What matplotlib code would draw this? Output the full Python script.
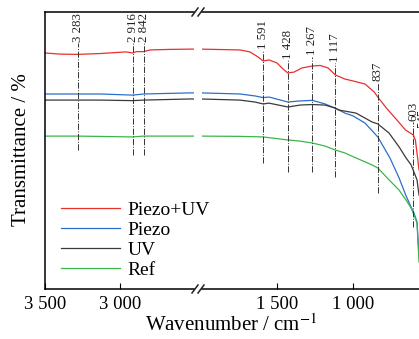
import matplotlib
matplotlib.use("Agg")
import matplotlib.pyplot as plt
from matplotlib.ticker import FixedLocator, FuncFormatter

plt.rcParams['font.family'] = ['Liberation Serif', 'DejaVu Serif']
plt.rcParams['mathtext.fontset'] = 'stix'

# spectra (wavenumber / cm-1, transmittance in arbitrary %)
wn_red = [3500, 3400, 3283, 3133, 2960, 2916, 2890, 2842, 2800, 2667, 2533, 2000,
          1743, 1678, 1625, 1591, 1552, 1500, 1454, 1428, 1388, 1336, 1267, 1217,
          1164, 1130, 1117, 1053, 1000, 921, 860, 837, 780, 700, 655, 603, 590, 575, 566]
t_red = [85.2, 84.8, 84.7, 85.0, 85.6, 85.2, 85.7, 85.7, 86.3, 86.5, 86.6, 86.6,
         86.3, 85.6, 83.8, 82.3, 82.7, 81.6, 79.1, 78.0, 78.3, 79.8, 80.5, 80.7,
         79.8, 78.0, 77.3, 75.8, 75.1, 74.0, 71.1, 69.3, 65.3, 60.3, 57.4, 55.6, 53.8, 47.3, 43.0]

wn_blue = [3500, 3283, 3133, 2916, 2842, 2533, 2000, 1743, 1645, 1591, 1552, 1428,
           1349, 1267, 1184, 1117, 1053, 1000, 921, 837, 757, 697, 651, 618, 599, 579, 566]
t_blue = [70.4, 70.4, 70.4, 70.0, 70.4, 70.8, 70.8, 70.4, 69.7, 69.1, 69.3, 67.5,
          67.9, 68.1, 66.8, 65.3, 63.5, 62.5, 59.9, 54.9, 47.3, 40.1, 33.6, 29.6, 27.4, 24.2, 12.3]

wn_black = [3500, 3283, 3133, 2916, 2842, 2533, 2000, 1743, 1645, 1591, 1552, 1428,
            1349, 1267, 1184, 1117, 1092, 980, 875, 837, 763, 697, 651, 618, 599, 579, 566]
t_black = [68.2, 68.2, 68.2, 68.0, 68.2, 68.6, 68.6, 68.2, 67.5, 66.8, 67.1, 65.7,
           66.4, 66.6, 66.4, 65.3, 64.6, 63.5, 60.3, 59.6, 56.3, 51.3, 47.3, 44.8, 42.2, 39.4, 33.9]

wn_green = [3500, 3283, 2916, 2842, 2533, 2000, 1743, 1591, 1428, 1349, 1267, 1184,
            1117, 1053, 980, 875, 837, 763, 697, 651, 618, 599, 579, 566]
t_green = [55.2, 55.2, 54.9, 55.2, 55.2, 55.2, 55.1, 54.9, 53.8, 53.4, 52.7, 51.6,
           50.2, 49.1, 47.3, 44.8, 43.7, 39.4, 35.7, 32.1, 29.2, 26.7, 23.8, 9.7]

series = [
    ("Piezo+UV", wn_red, t_red, "#e8302d"),
    ("Piezo", wn_blue, t_blue, "#2c6fc9"),
    ("UV", wn_black, t_black, "#3a3a3a"),
    ("Ref", wn_green, t_green, "#3cb54a"),
]

# marked peaks: position, top of the guide line, bottom of the guide line
peak_wn = [3283, 2916, 2842, 1591, 1428, 1267, 1117, 837, 603, 545]
peak_top = [88.8, 88.8, 88.8, 86.3, 82.7, 83.8, 81.6, 74.7, 60.3, 57.5]
peak_bot = [50.2, 48.4, 48.4, 45.5, 42.2, 42.2, 40.4, 34.7, 22.4, 22.4]

ticks_left = [3500, 3000]
ticks_right = [1500, 1000]

fig = plt.figure(figsize=(4.19, 3.39), dpi=100)
W, H = 419, 339
ax1 = fig.add_axes([45 / W, 50 / H, 149 / W, 277 / H])
ax2 = fig.add_axes([202 / W, 50 / H, 217 / W, 277 / H])
ax2.patch.set_visible(False)

ax1.set_xlim(3500, 2507)
ax2.set_xlim(1993, 566)
for ax in (ax1, ax2):
    ax.set_ylim(0, 100)
    for name, wn, t, c in series:
        ax.plot(wn, t, color=c, lw=0.9, label=name)
    for w, top, bot in zip(peak_wn, peak_top, peak_bot):
        lo, hi = sorted(ax.get_xlim())
        if lo <= w <= hi or (ax is ax2 and w < lo):
            ax.plot([w, w], [bot, top], color="#333333", lw=0.7, ls="-.",
                    clip_on=False)
            lab = f"{w:,}".replace(",", " ")
            ax.text(w, top + 0.5, lab, rotation=90, ha="center", va="bottom",
                    fontsize=9.3, color="#222222")
    ax.set_yticks([])
    ax.tick_params(axis="x", direction="in", length=4, width=0.8,
                   labelsize=13.5, pad=5)
    ax.xaxis.set_major_formatter(FuncFormatter(lambda v, p: f"{int(v):,}".replace(",", " ")))
    ax.spines["right"].set_visible(False)
    for s in ("top", "bottom", "left"):
        ax.spines[s].set_linewidth(1.1)

ax1.xaxis.set_major_locator(FixedLocator(ticks_left))
ax2.xaxis.set_major_locator(FixedLocator(ticks_right))
ax2.spines["left"].set_visible(False)

# break marks
for py in (12, 289):
    for px in (195, 201):
        fig.add_artist(plt.Line2D([(px - 3) / W, (px + 3) / W],
                                  [(H - py - 4) / H, (H - py + 4) / H],
                                  color="#222222", lw=1.1, transform=fig.transFigure))

leg = ax1.legend(loc="upper left", bbox_to_anchor=(0.11, 0.317), frameon=False,
                 fontsize=14, handlelength=3.0, handletextpad=0.4,
                 labelspacing=0.12, borderpad=0, borderaxespad=0)
leg.set_zorder(5)

fig.text(22 / W, (H - 150) / H, "Transmittance / %", rotation=90,
         ha="center", va="center", fontsize=15)
fig.text(231 / W, (H - 325) / H, "Wavenumber / cm$^{-1}$",
         ha="center", va="center", fontsize=15)

fig.savefig("out.png", dpi=100)
